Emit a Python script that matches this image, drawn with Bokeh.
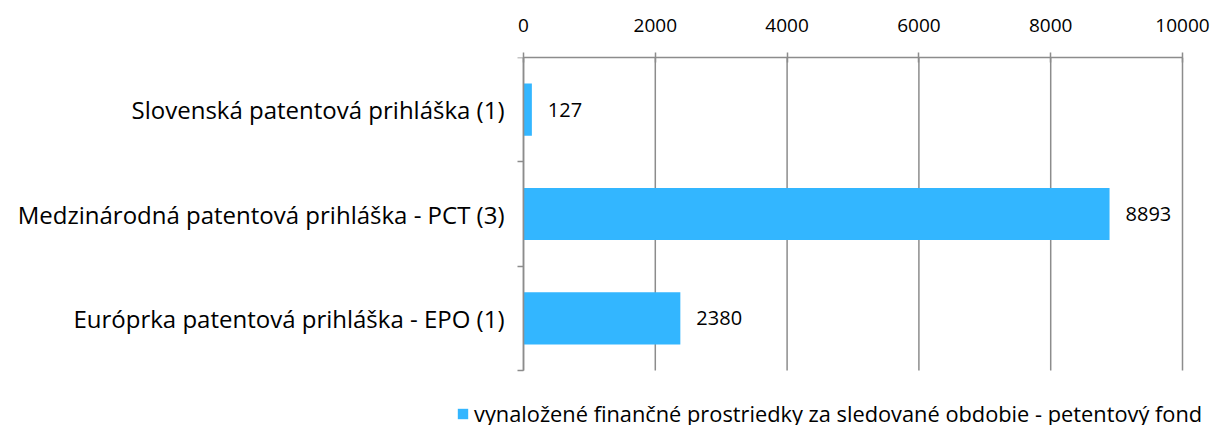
from bokeh.plotting import figure
from bokeh.models import ColumnDataSource, FixedTicker, Range1d, LinearAxis, Legend, LegendItem, LabelSet
from bokeh.core.properties import value
from bokeh.embed import file_html
from bokeh.resources import INLINE

categories = ["Slovenská patentová prihláška (1)",
              "Medzinárodná patentová prihláška - PCT (3)",
              "Európrka patentová prihláška - EPO (1)"]
values = [127, 8893, 2380]
series_name = "vynaložené finančné prostriedky za sledované obdobie - petentový fond"
x_ticks = [0, 2000, 4000, 6000, 8000, 10000]
x_max = 10000

FONT = "Open Sans"
BAR = "#33B6FF"
GRID = "#8C8C8C"

W, H = 1218, 425
TOP, BOTTOM_AXIS, LEFT, RIGHT = 57, 370, 523, 1182   # pixel layout of the category area

n = len(categories)
pos = [i + 0.5 for i in range(n)]
src = ColumnDataSource(dict(y=pos, v=values, lbl=[str(v) for v in values]))
grid_src = ColumnDataSource(dict(x=x_ticks, y0=[0] * len(x_ticks), y1=[n] * len(x_ticks)))

# the frame covers the whole canvas below the top axis, so the legend is not clipped;
# the value axis still maps 0..10000 onto LEFT..RIGHT
y_end = n * (H - TOP) / (BOTTOM_AXIS - TOP)
x_start = -x_max * LEFT / (RIGHT - LEFT)
x_end = x_max * (W - LEFT) / (RIGHT - LEFT)

p = figure(width=W, height=H, output_backend="svg", toolbar_location=None,
           x_range=Range1d(x_start, x_end), y_range=Range1d(y_end, 0),
           x_axis_location=None, y_axis_location=None,
           min_border_left=0, min_border_right=0, min_border_top=TOP, min_border_bottom=0)
p.outline_line_color = None
p.background_fill_color = "white"
p.xgrid.grid_line_color = None
p.ygrid.grid_line_color = None

p.segment(x0="x", x1="x", y0="y0", y1="y1", source=grid_src, line_color=GRID, line_width=1.5)
r = p.hbar(y="y", right="v", left=0, height=0.5, source=src, color=BAR, line_color=None)

# top axis
xa = LinearAxis(ticker=FixedTicker(ticks=x_ticks), bounds=(0, x_max))
xa.axis_line_color = GRID
xa.axis_line_width = 1.5
xa.major_tick_line_color = GRID
xa.major_tick_line_width = 1.5
xa.major_tick_in = 5
xa.major_tick_out = 5
xa.minor_tick_line_color = None
xa.major_label_standoff = 21
xa.major_label_text_font = FONT
xa.major_label_text_font_size = "19px"
xa.major_label_text_color = "black"
p.add_layout(xa, "above")

# left (category) axis, drawn at value 0
ya = LinearAxis(ticker=FixedTicker(ticks=pos, minor_ticks=list(range(n + 1))),
                bounds=(0, n), fixed_location=0)
ya.major_label_overrides = {pos[i]: categories[i] for i in range(n)}
ya.axis_line_color = GRID
ya.axis_line_width = 1.5
ya.major_tick_line_color = None
ya.minor_tick_line_color = GRID
ya.minor_tick_line_width = 1.5
ya.minor_tick_out = 6
ya.minor_tick_in = 0
ya.major_label_standoff = 13
ya.major_label_text_font = FONT
ya.major_label_text_font_size = "24px"
ya.major_label_text_color = "black"
p.add_layout(ya, "left")

labels = LabelSet(x="v", y="y", text="lbl", source=src, x_offset=16,
                  text_baseline="middle", text_align="left",
                  text_font=value(FONT), text_font_size=value("20px"), text_color="black")
p.add_layout(labels)

legend = Legend(items=[LegendItem(label=series_name, renderers=[r])],
                location=(LEFT - 67, -3), orientation="horizontal",
                border_line_color=None, background_fill_alpha=0,
                label_text_font=FONT, label_text_font_size="21.8px", label_text_color="black",
                glyph_width=13, glyph_height=13, label_standoff=5,
                padding=2, margin=0)
p.add_layout(legend)

open("out.html", "w").write(file_html(p, INLINE))
